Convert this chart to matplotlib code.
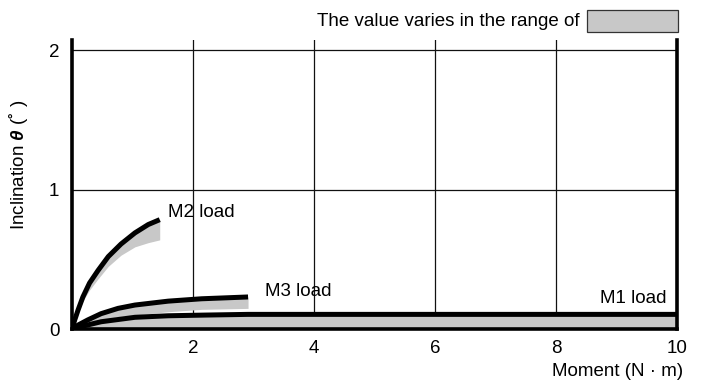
import matplotlib
matplotlib.use('Agg')
import matplotlib.pyplot as plt
from matplotlib.patches import Rectangle

plt.rcParams['font.family'] = ['Liberation Sans', 'DejaVu Sans']
plt.rcParams['mathtext.fontset'] = 'custom'
plt.rcParams['mathtext.rm'] = 'Liberation Sans'
plt.rcParams['mathtext.it'] = 'Liberation Sans:italic'
plt.rcParams['mathtext.bf'] = 'Liberation Sans:bold:italic'

GRAY = '#c8c8c8'
FS = 13.5

# M1 load: inclination vs moment (band goes down to 0)
m1_x = [0, 0.1, 0.26, 0.48, 1.04, 1.59, 2.2, 2.91, 4.0, 10.0]
m1_hi = [0, 0.013, 0.029, 0.052, 0.084, 0.095, 0.100, 0.105, 0.105, 0.105]
m1_lo = [0, 0, 0, 0, 0, 0, 0, 0, 0, 0]

# M2 load
m2_x = [0, 0.045, 0.10, 0.18, 0.29, 0.43, 0.60, 0.81, 1.04, 1.26, 1.45]
m2_hi = [0, 0.065, 0.136, 0.23, 0.33, 0.42, 0.52, 0.61, 0.69, 0.75, 0.785]
m2_lo = [0, 0.055, 0.115, 0.20, 0.28, 0.36, 0.45, 0.53, 0.59, 0.62, 0.64]

# M3 load
m3_x = [0, 0.1, 0.26, 0.48, 0.76, 1.04, 1.59, 2.14, 2.91]
m3_hi = [0, 0.028, 0.065, 0.11, 0.148, 0.172, 0.20, 0.217, 0.230]
m3_lo = [0, 0.018, 0.040, 0.065, 0.088, 0.100, 0.124, 0.141, 0.148]

x_ticks = [2, 4, 6, 8, 10]
y_ticks = [0, 1, 2]

fig = plt.figure(figsize=(7.01, 3.83), dpi=100)
ax = fig.add_axes([72 / 701, 1 - 329 / 383, 605 / 701, 289 / 383])
ax.set_xlim(0, 10)
ax.set_ylim(0, 2.075)

# grid
for gx in [2, 4, 6, 8]:
    ax.axvline(gx, color='#111111', lw=0.9, zorder=1)
for gy in [1, 2]:
    ax.axhline(gy, color='#111111', lw=0.9, zorder=1)

# variation bands
for xs, lo, hi in [(m1_x, m1_lo, m1_hi), (m2_x, m2_lo, m2_hi), (m3_x, m3_lo, m3_hi)]:
    ax.fill_between(xs, lo, hi, color=GRAY, lw=0, zorder=2)

for xs, hi in [(m1_x, m1_hi), (m2_x, m2_hi), (m3_x, m3_hi)]:
    ax.plot(xs, hi, color='black', lw=3.6, solid_capstyle='butt',
            solid_joinstyle='round', zorder=3)

ax.text(1.58, 0.84, 'M2 load', fontsize=FS, ha='left', va='center')
ax.text(3.19, 0.267, 'M3 load', fontsize=FS, ha='left', va='center')
ax.text(9.83, 0.22, 'M1 load', fontsize=FS, ha='right', va='center')

ax.spines['top'].set_visible(False)
for side in ['left', 'right', 'bottom']:
    ax.spines[side].set_linewidth(2.6)
    ax.spines[side].set_zorder(4)

ax.set_xticks(x_ticks)
ax.set_yticks(y_ticks)
ax.set_yticklabels([str(v) for v in y_ticks])
ax.tick_params(length=0, labelsize=FS, pad=8)
ax.tick_params(axis='y', pad=9)

fig.text(683 / 701, 1 - 372 / 383, 'Moment (N · m)', fontsize=FS,
         ha='right', va='center')
fig.text(19 / 701, 1 - 165 / 383, r'Inclination $\mathbf{\theta}$ (˚ )',
         fontsize=FS, rotation=90, ha='center', va='center')

# range legend
fig.text(580 / 701, 1 - 21 / 383, 'The value varies in the range of',
         fontsize=FS, ha='right', va='center')
fig.patches.append(Rectangle((587 / 701, 1 - 32 / 383), 91 / 701, 22 / 383,
                             transform=fig.transFigure, facecolor=GRAY,
                             edgecolor='#333333', lw=0.9))

fig.savefig('out.png', dpi=100)
